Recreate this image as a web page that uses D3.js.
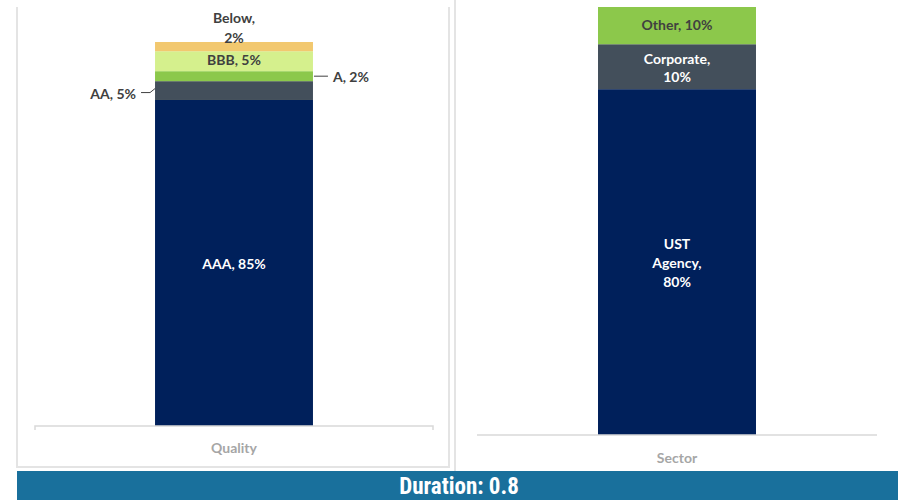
<!DOCTYPE html>
<html>
<head>
<meta charset="utf-8">
<script src="https://cdn.jsdelivr.net/npm/d3@7"></script>
<style>
  html, body { margin: 0; padding: 0; background: #ffffff; }
  svg { display: block; }
  .lbl { font-family: Lato, "Open Sans", sans-serif; font-weight: 700; font-size: 14px; }
</style>
</head>
<body>
<svg id="chart" width="898" height="500"></svg>
<script>
// ---- data ----
const qualityGroup = ["Quality"];
const qualityCats = ["AAA", "AA", "A", "BBB", "Below"];
const qualityValues = [84.9, 4.9, 2.6, 5.2, 2.4];
const qualityLabels = ["AAA, 85%", "AA, 5%", "A, 2%", "BBB, 5%", "Below,\n2%"];

const sectorGroup = ["Sector"];
const sectorCats = ["UST Agency", "Corporate", "Other"];
const sectorValues = [80.8, 10.5, 8.7];
const sectorLabels = ["UST\nAgency,\n80%", "Corporate,\n10%", "Other, 10%"];

const durationText = "Duration: 0.8";

// ---- styles ----
const qualityColors = ["#00205b", "#434f5b", "#8cc84b", "#d5f08d", "#f2c86f"];
const qualityText = ["#ffffff", "#404040", "#404040", "#404040", "#404040"];
const sectorColors = ["#00205b", "#434f5b", "#8cc84b"];
const sectorText = ["#ffffff", "#ffffff", "#404040"];

const svg = d3.select("#chart");

// panel borders
svg.append("line").attr("x1", 17).attr("x2", 17).attr("y1", 7).attr("y2", 468)
  .attr("stroke", "#e4e4e4").attr("stroke-width", 2);
svg.append("line").attr("x1", 449).attr("x2", 449).attr("y1", 7).attr("y2", 468)
  .attr("stroke", "#e4e4e4").attr("stroke-width", 2);
svg.append("line").attr("x1", 16).attr("x2", 450).attr("y1", 467).attr("y2", 467)
  .attr("stroke", "#e4e4e4").attr("stroke-width", 2);
svg.append("line").attr("x1", 455).attr("x2", 455).attr("y1", 0).attr("y2", 471)
  .attr("stroke", "#e4e4e4").attr("stroke-width", 2);

function stack(values) {
  let acc = 0;
  return values.map(v => { const s = { y0: acc, y1: acc + v }; acc += v; return s; });
}

function drawPanel(opts) {
  const x = d3.scaleBand().domain(opts.group).range(opts.xRange)
    .paddingInner(0).paddingOuter(opts.pad);
  const y = d3.scaleLinear().domain([0, 100]).range(opts.yRange);
  const g = svg.append("g");
  const st = stack(opts.values);
  const bx = x(opts.group[0]), bw = x.bandwidth();

  g.selectAll("rect").data(st).join("rect")
    .attr("x", bx).attr("width", bw)
    .attr("y", d => y(d.y1)).attr("height", d => y(d.y0) - y(d.y1))
    .attr("fill", (d, i) => opts.colors[i]);

  const axis = d3.axisBottom(x).tickSize(0).tickFormat("");
  const ag = g.append("g").attr("transform", `translate(0,${opts.yRange[0]})`).call(axis);
  ag.select(".domain").attr("stroke", "#d9d9d9").attr("stroke-width", 1.5)
    .attr("d", opts.endTicks
      ? `M${opts.xRange[0]},4V0H${opts.xRange[1]}V4`
      : `M${opts.xRange[0]},0H${opts.xRange[1]}`);
  g.append("text").attr("class", "lbl")
    .attr("x", bx + bw / 2).attr("y", opts.yRange[0] + opts.catDy)
    .attr("text-anchor", "middle").attr("dominant-baseline", "central")
    .attr("fill", "#a6a6a6").text(opts.group[0]);

  return { x, y, g, st, bx, bw };
}

function multiline(g, str, cx, cy, anchor, fill, lh) {
  const lines = str.split("\n");
  const t = g.append("text").attr("class", "lbl").attr("text-anchor", anchor)
    .attr("fill", fill).attr("dominant-baseline", "central");
  lines.forEach((l, i) => {
    t.append("tspan").attr("x", cx).attr("y", cy + (i - (lines.length - 1) / 2) * lh).text(l);
  });
  return t;
}

// ---- Quality panel ----
const Q = drawPanel({
  group: qualityGroup, values: qualityValues, colors: qualityColors,
  xRange: [35, 433], pad: 0.76, yRange: [426, 42], endTicks: true, catDy: 21
});
const LH = 19;
{
  const { y, g, st, bx, bw } = Q;
  const cx = bx + bw / 2;
  multiline(g, qualityLabels[0], cx, (y(st[0].y0) + y(st[0].y1)) / 2, "middle", qualityText[0], LH);
  const aaY = (y(st[1].y0) + y(st[1].y1)) / 2;
  g.append("path").attr("d", `M${bx},${aaY - 2}L${bx - 5},${aaY + 2}H${bx - 14}`)
    .attr("fill", "none").attr("stroke", "#404040").attr("stroke-width", 1);
  multiline(g, qualityLabels[1], bx - 19, aaY + 2, "end", qualityText[1], LH);
  const aY = (y(st[2].y0) + y(st[2].y1)) / 2;
  g.append("path").attr("d", `M${bx + bw + 1},${aY}H${bx + bw + 15}`)
    .attr("fill", "none").attr("stroke", "#404040").attr("stroke-width", 1);
  multiline(g, qualityLabels[2], bx + bw + 20, aY, "start", qualityText[2], LH);
  multiline(g, qualityLabels[3], cx, (y(st[3].y0) + y(st[3].y1)) / 2 - 2, "middle", qualityText[3], LH);
  multiline(g, qualityLabels[4], cx, y(st[4].y1) - 15, "middle", qualityText[4], 20);
}

// ---- Sector panel ----
const S = drawPanel({
  group: sectorGroup, values: sectorValues, colors: sectorColors,
  xRange: [477, 877], pad: 0.766, yRange: [435, 7], endTicks: false, catDy: 22
});
{
  const { y, g, st, bx, bw } = S;
  const cx = bx + bw / 2;
  st.forEach((d, i) => {
    const cy = (y(d.y0) + y(d.y1)) / 2 + (i === 2 ? -2 : 0);
    multiline(g, sectorLabels[i], cx, cy, "middle", sectorText[i], i === 1 ? 18 : 19);
  });
}

// ---- banner ----
svg.append("rect").attr("x", 17).attr("y", 471).attr("width", 881).attr("height", 29)
  .attr("fill", "#19709c");
svg.append("text").attr("x", 459).attr("y", 494)
  .attr("text-anchor", "middle")
  .attr("font-family", "'Liberation Sans Narrow', 'Arial Narrow', 'Roboto Condensed', sans-serif")
  .attr("font-weight", 700).attr("font-size", 23).attr("fill", "#ffffff")
  .text(durationText);
</script>
</body>
</html>
